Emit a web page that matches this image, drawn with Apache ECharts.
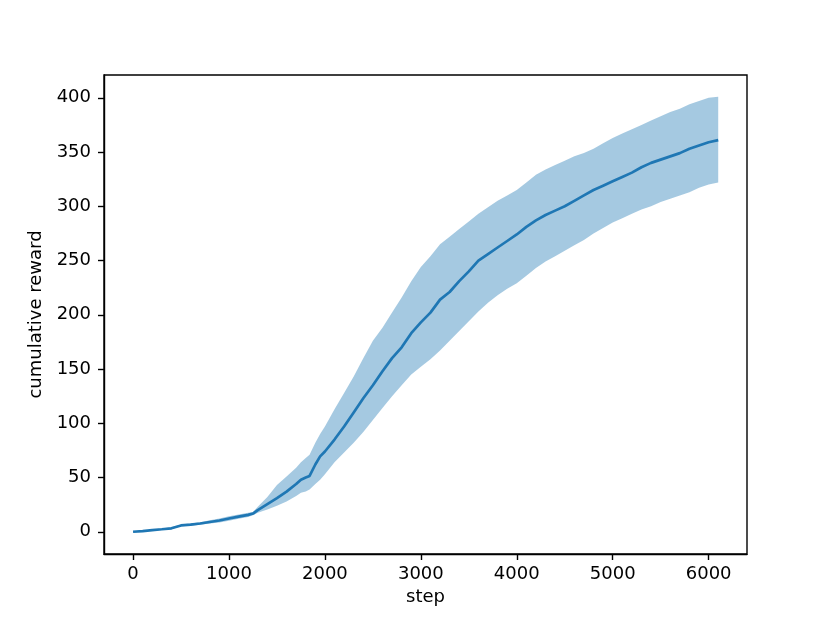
<!DOCTYPE html>
<html>
<head>
<meta charset="utf-8">
<script src="https://cdn.jsdelivr.net/npm/echarts@6/dist/echarts.min.js"></script>
<style>
html,body{margin:0;padding:0;background:#fff;}
#c{width:830px;height:623px;}
</style>
</head>
<body>
<div id="c"></div>
<script>
var steps = [0,100,200,300,400,500,600,700,800,900,1000,1100,1200,1250,1300,1400,1500,1600,1700,1750,1800,1840,1900,1950,2000,2100,2200,2300,2400,2500,2600,2700,2800,2900,3000,3100,3200,3300,3400,3500,3600,3700,3800,3900,4000,4100,4200,4300,4400,4500,4600,4700,4800,4900,5000,5100,5200,5300,5400,5500,5600,5700,5800,5900,6000,6100];
var meanReward = [0,0.6,1.5,2.3,3.2,5.8,6.5,7.6,9.0,10.4,12.2,14.0,15.6,16.8,20,25.5,31,37,44,48,50,51.5,62,69.5,74,85,97,110,123,135,148,160,170,183,193,202,214,221,231,240,250,256,262,268,274,281,287,292,296,300,305,310,315,319,323,327,331,336,340,343,346,349,353,356,359,361];
var lowerReward = [-0.3,0.1,0.9,1.6,2.3,5.0,5.5,6.4,7.5,8.6,10.2,12.0,13.6,15.3,17.5,20.5,24,28,33,36,37,39,44,48,53,64,73,82,92,103,114,125,135,145,152,159,167,176,185,194,203,211,218,224,229,236,243,249,254,259,264,269,275,280,285,289,293,297,300,304,307,310,313,317,320,322];
var upperReward = [0.3,1.1,2.1,3.0,4.1,6.6,7.5,8.8,10.5,12.2,14.2,16.0,17.6,18.3,23,32,43,51,59,64,68,71,82,90,97,113,128,143,160,176,188,202,216,231,244,254,265,272,279,286,293,299,305,310,315,322,329,334,338,342,346,349,353,358,363,367,371,375,379,383,387,390,394,397,400,401];
var xTicks = [0,1000,2000,3000,4000,5000,6000];
var yTicks = [0,50,100,150,200,250,300,350,400];

var meanData = steps.map(function(s,i){return [s, meanReward[i]];});

var font = 'DejaVu Sans';
var chart = echarts.init(document.getElementById('c'), null, {renderer:'canvas'});
chart.setOption({
  animation:false,
  backgroundColor:'#ffffff',
  grid:{left:104, right:83, top:75, bottom:69, containLabel:false, show:true, borderColor:'#000', borderWidth:1.4, backgroundColor:'transparent'},
  xAxis:{
    type:'value', min:-303, max:6400,
    name:'step', nameLocation:'middle', nameGap:34,
    nameTextStyle:{fontFamily:font, fontSize:18, color:'#000'},
    axisLine:{show:true, onZero:false, lineStyle:{color:'#000', width:1.4}},
    axisTick:{show:true, inside:false, length:6, lineStyle:{color:'#000', width:1.4}, customValues:xTicks},
    axisLabel:{fontFamily:font, fontSize:18, color:'#000', margin:11, customValues:xTicks, formatter:function(v){return String(v);}},
    splitLine:{show:false}
  },
  yAxis:{
    type:'value', min:-20.5, max:421,
    name:'cumulative reward', nameLocation:'middle', nameGap:53,
    nameTextStyle:{fontFamily:font, fontSize:18, color:'#000'},
    axisLine:{show:true, onZero:false, lineStyle:{color:'#000', width:1.4}},
    axisTick:{show:true, inside:false, length:6, lineStyle:{color:'#000', width:1.4}, customValues:yTicks},
    axisLabel:{fontFamily:font, fontSize:18, color:'#000', margin:13, customValues:yTicks, formatter:function(v){return String(v);}},
    splitLine:{show:false}
  },
  series:[
    {
      type:'custom', silent:true, clip:true, z:2,
      data:[[0,0]],
      encode:{x:0, y:1},
      renderItem:function(params, api){
        var pts = [];
        for (var i = 0; i < steps.length; i++) pts.push(api.coord([steps[i], upperReward[i]]));
        for (var j = steps.length - 1; j >= 0; j--) pts.push(api.coord([steps[j], lowerReward[j]]));
        return {type:'polygon', shape:{points:pts}, style:{fill:'rgba(31,119,180,0.4)', stroke:null}};
      }
    },
    {type:'line', data:meanData, symbol:'none', lineStyle:{color:'#1f77b4', width:2.7}, z:5}
  ]
});
</script>
</body>
</html>
